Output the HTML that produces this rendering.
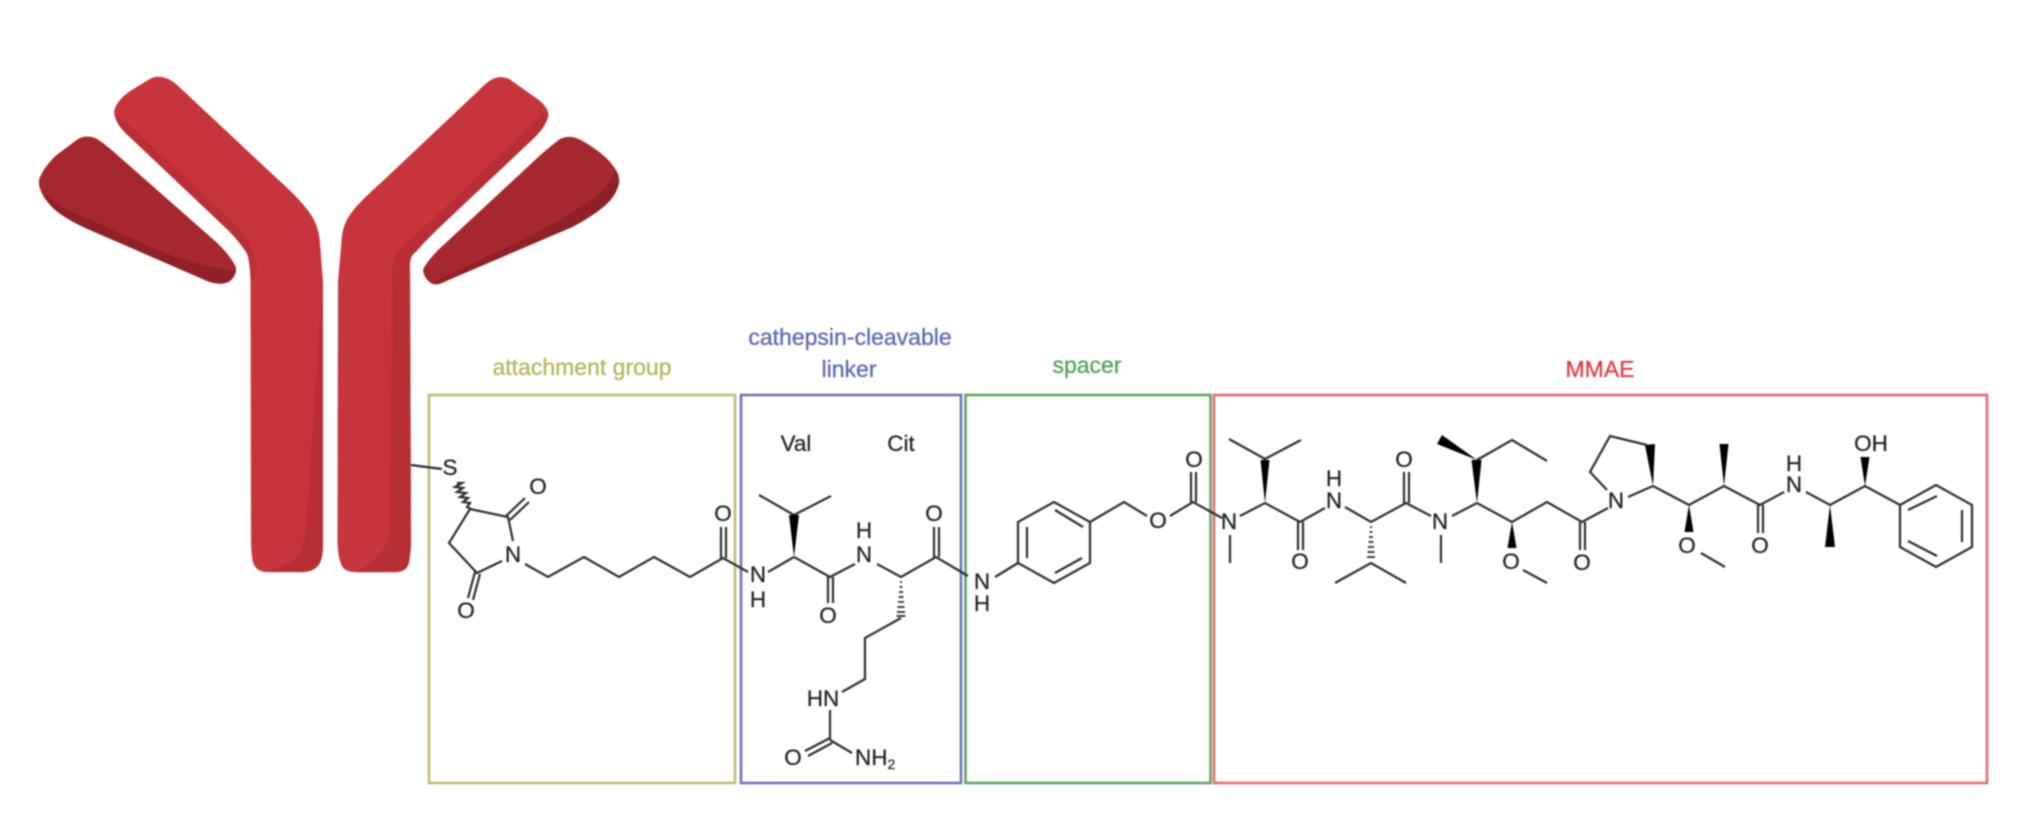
<!DOCTYPE html>
<html><head><meta charset="utf-8"><style>
html,body{margin:0;padding:0;background:#fff;width:2030px;height:834px;overflow:hidden}
svg{display:block;filter:blur(.7px)}
text{font-family:"Liberation Sans",sans-serif}
.a{font-size:22.5px;fill:#222;stroke:#222;stroke-width:.25;text-anchor:middle}
.l{font-size:23px;text-anchor:middle;stroke-width:.3}
.b line,.b polyline,.b polygon.o{stroke:#2e2e2e;stroke-width:2.2;fill:none}
.w{fill:#000}
.h line{stroke:#222;stroke-width:1.7}
</style></head><body>
<svg width="2030" height="834" viewBox="0 0 2030 834" xmlns="http://www.w3.org/2000/svg">
<rect width="2030" height="834" fill="#fff"/>
<!-- antibody -->
<g transform="translate(0 50) scale(1 .8236) translate(0 -50)">
<path d="M150,85 Q158,80 168,85 Q175,89 182,98 L277,206 Q303,234 312,252 Q319,266 320,285 L323,332 L323,650 Q323,670 318,676 Q313,684 300,684 L268,684 Q256,684 253,672 Q251,662 251,645 L250.5,327 Q250,308 247,297 Q240,284 230,271 L130,156 Q115,140 114,125 Q116,112 130,100 Z" fill="#c6353b"/>
<path d="M115,128 L130,142 L232,258 Q252,282 256.7,310 L254,332 L250.5,327 Q250,308 247,297 Q240,284 230,271 L130,156 Q115,140 115,128 Z" fill="#b92f36"/>
<path d="M323,327 L306,631 Q304,650 299,661 Q288,680 264,683 L300,684 Q313,684 318,676 Q323,670 323,650 Z" fill="#b72e35"/>
<path d="M509,85 Q499,80 490,87 Q486,90 478,100 L382,210 Q360,234 353,245 Q344,258 342,275 L338,332 L337.5,645 Q337.5,665 342,677 Q346,684 356,684 L395,684 Q407,684 409,672 Q411,660 411,645 L410,310 Q410,300 416,295 Q425,282 438,267 L533,158 Q547,142 548.5,128 Q547,118 538,110 Z" fill="#c6353b"/>
<path d="M546,124 L434,254 L403,288 Q394,300 392.5,312 L390,630 Q388,650 382,658 Q372,674 356,684 L395,684 Q407,684 409,672 Q411,660 411,645 L410,310 Q410,300 416,295 Q425,282 438,267 L533,158 Q547,142 548.5,128 Z" fill="#b72e35"/>
<path d="M78,158 Q87,152 97,158 Q104,163 115,175 L217,284 Q232,302 236,314 Q236,326 228,332 Q220,336 208,331 L87,267 Q60,252 50,238 Q38,222 39,208 Q42,195 56,178 Z" fill="#a5282e"/>
<path d="M43,222 Q60,243 87,254 L152,290 Q190,310 232,318 L236,316 Q236,326 228,332 Q220,336 208,331 L87,267 Q60,252 50,238 Q44,230 43,222 Z" fill="#8f2027"/>
<path d="M560,158 Q571,152 582,160 Q605,176 614,192 Q620,202 619,212 Q616,228 603,241 Q590,254 572,265 L447,330 Q438,336 432,334 Q424,328 423,317 Q426,308 438,293 L540,178 Q552,165 560,158 Z" fill="#a5282e"/>
<path d="M616,196 Q610,214 594,230 Q560,258 520,282 L433,332 L434,334 Q438,336 447,330 L572,265 Q590,254 603,241 Q616,228 619,212 Q620,204 616,196 Z" fill="#8f2027"/>
</g>

<!-- boxes -->
<g fill="none" stroke-width="2.6">
<rect x="429" y="395" width="306" height="388" stroke="#bebd72"/>
<rect x="741" y="395" width="220" height="388" stroke="#6a75bf"/>
<rect x="965.5" y="395" width="245" height="388" stroke="#5ca860"/>
<rect x="1214" y="395" width="773" height="388" stroke="#e96a70"/>
</g>

<!-- labels -->
<text class="l" x="582" y="375" fill="#b4b45c" stroke="#b4b45c">attachment group</text>
<text class="l" x="850" y="345" fill="#5a68b5" stroke="#5a68b5">cathepsin-cleavable</text>
<text class="l" x="849" y="377" fill="#5a68b5" stroke="#5a68b5">linker</text>
<text class="l" x="1087" y="373" fill="#4fa557" stroke="#4fa557">spacer</text>
<text class="l" x="1600" y="377" fill="#e23a44" stroke="#e23a44">MMAE</text>

<!-- bonds -->
<g class="b">
<line x1="411" y1="465" x2="442" y2="469"/>
<polyline points="470,509 449,543 477,573 502,561"/>
<polyline points="470,509 508,517 513,541"/>
<line x1="506" y1="516" x2="525" y2="498"/><line x1="510" y1="520" x2="529" y2="502"/>
<line x1="475" y1="572" x2="468" y2="598"/><line x1="480" y1="574" x2="473" y2="600"/>
<polyline points="525,564 548,577 584,557 619,577 654,557 690,577 723,558 748,572"/>
<line x1="721" y1="558" x2="721" y2="527"/><line x1="726" y1="558" x2="726" y2="527"/>
<line x1="768" y1="572" x2="794" y2="557"/>
<polyline points="759,495 794,515 831,496"/>
<polyline points="794,557 830,577 855,564"/>
<line x1="828" y1="577" x2="828" y2="603"/><line x1="833" y1="577" x2="833" y2="603"/>
<polyline points="877,564 901,577 936,557 968,576"/>
<line x1="934" y1="557" x2="934" y2="527"/><line x1="939" y1="557" x2="939" y2="527"/>
<polyline points="901,618 865,638 865,679 842,692"/>
<line x1="830" y1="710" x2="830" y2="740"/>
<line x1="830" y1="738" x2="805" y2="751"/><line x1="832" y1="743" x2="808" y2="756"/>
<line x1="830" y1="740" x2="852" y2="753"/>
<line x1="995" y1="577" x2="1018" y2="563"/>
<polygon class="o" points="1018,563 1018,522 1054,502 1090,522 1090,563 1054,583"/>
<line x1="1027" y1="527" x2="1027" y2="558"/><line x1="1055" y1="510" x2="1083" y2="527"/><line x1="1055" y1="573" x2="1082" y2="558"/>
<polyline points="1090,522 1124,502 1147,516"/>
<polyline points="1170,516 1193,502 1222,518"/>
<line x1="1191" y1="502" x2="1191" y2="472"/><line x1="1196" y1="502" x2="1196" y2="472"/>
<line x1="1230" y1="535" x2="1230" y2="563"/>
<line x1="1240" y1="516" x2="1265" y2="503"/>
<polyline points="1229,439 1265,459 1301,440"/>
<polyline points="1265,503 1300,522 1325,508"/>
<line x1="1298" y1="522" x2="1298" y2="550"/><line x1="1303" y1="522" x2="1303" y2="550"/>
<polyline points="1345,507 1371,522 1406,503 1431,516"/>
<line x1="1404" y1="503" x2="1404" y2="472"/><line x1="1409" y1="503" x2="1409" y2="472"/>
<line x1="1441" y1="535" x2="1441" y2="563"/>
<polyline points="1335,583 1371,563 1406,583"/>
<line x1="1452" y1="516" x2="1477" y2="503"/>
<polyline points="1477,460 1512,440 1547,461"/>
<polyline points="1477,503 1512,522 1547,502 1582,522 1608,508"/>
<line x1="1580" y1="522" x2="1580" y2="550"/><line x1="1585" y1="522" x2="1585" y2="550"/>
<line x1="1523" y1="570" x2="1547" y2="583"/>
<polyline points="1607,490 1590,472 1610,436 1647,445"/>
<line x1="1628" y1="497" x2="1653" y2="486"/>
<polyline points="1653,486 1689,505 1724,486 1760,505 1784,492"/>
<line x1="1701" y1="553" x2="1725" y2="567"/>
<line x1="1758" y1="505" x2="1758" y2="533"/><line x1="1763" y1="505" x2="1763" y2="533"/>
<polyline points="1806,492 1830,505 1865,486 1900,505"/>
<polygon class="o" points="1900,505 1936,485 1972,505 1972,547 1936,567 1900,547"/>
<line x1="1908" y1="510" x2="1937" y2="496"/><line x1="1962" y1="510" x2="1962" y2="542"/><line x1="1908" y1="541" x2="1937" y2="556"/>
<polyline stroke-width="1.6" points="457,483 462,483 455,487 463,488 457,492 466,493 460,497 468,498 463,502 470,503 467,507 471,509"/>
</g>

<!-- wedges -->
<g class="w">
<polygon points="794,557 789,515 799,515"/>
<polygon points="1265,503 1260.5,460 1269.5,460"/>
<polygon points="1477,503 1471.5,460 1481.5,460"/>
<polygon points="1477,460 1442,435 1437,444"/>
<polygon points="1512,522 1507.5,548 1516.5,548"/>
<polygon points="1653,486 1645,445 1655,444"/>
<polygon points="1689,505 1684.5,532 1693.5,532"/>
<polygon points="1724,486 1719.5,444 1728.5,444"/>
<polygon points="1830,505 1825,547 1835,547"/>
<polygon points="1865,486 1860.5,457 1869.5,457"/>
</g>
<!-- hashes -->
<g class="h">
<line x1="900" y1="582" x2="902" y2="582"/><line x1="899.5" y1="587" x2="902.5" y2="587"/><line x1="899" y1="592" x2="903" y2="592"/><line x1="898.5" y1="597" x2="903.5" y2="597"/><line x1="898" y1="602" x2="904" y2="602"/><line x1="897.5" y1="607" x2="904.5" y2="607"/><line x1="897" y1="612" x2="905" y2="612"/><line x1="896.5" y1="616" x2="905.5" y2="616"/>
<line x1="1370" y1="527" x2="1372" y2="527"/><line x1="1369.5" y1="532" x2="1372.5" y2="532"/><line x1="1369" y1="537" x2="1373" y2="537"/><line x1="1368.5" y1="542" x2="1373.5" y2="542"/><line x1="1368" y1="547" x2="1374" y2="547"/><line x1="1367.5" y1="552" x2="1374.5" y2="552"/><line x1="1367" y1="557" x2="1375" y2="557"/>
</g>

<!-- atoms -->
<g class="a">
<text x="450" y="475">S</text>
<text x="538" y="494">O</text>
<text x="513" y="562">N</text>
<text x="466" y="618">O</text>
<text x="723" y="521">O</text>
<text x="758" y="582">N</text>
<text x="758" y="607">H</text>
<text x="796" y="451">Val</text>
<text x="901" y="451">Cit</text>
<text x="828" y="623">O</text>
<text x="864" y="562">N</text>
<text x="864" y="538">H</text>
<text x="934" y="521">O</text>
<text x="982" y="589">N</text>
<text x="982" y="611">H</text>
<text x="823" y="706">HN</text>
<text x="793" y="765">O</text>
<text x="855" y="765" style="text-anchor:start">NH<tspan font-size="14" dy="4">2</tspan></text>
<text x="1158" y="528">O</text>
<text x="1194" y="467">O</text>
<text x="1229" y="529">N</text>
<text x="1300" y="569">O</text>
<text x="1334" y="508">N</text>
<text x="1334" y="486">H</text>
<text x="1404" y="467">O</text>
<text x="1440" y="529">N</text>
<text x="1511" y="569">O</text>
<text x="1582" y="570">O</text>
<text x="1616" y="508">N</text>
<text x="1687" y="553">O</text>
<text x="1760" y="553">O</text>
<text x="1794" y="492">N</text>
<text x="1794" y="471">H</text>
<text x="1871" y="451">OH</text>
</g>
</svg>
</body></html>
